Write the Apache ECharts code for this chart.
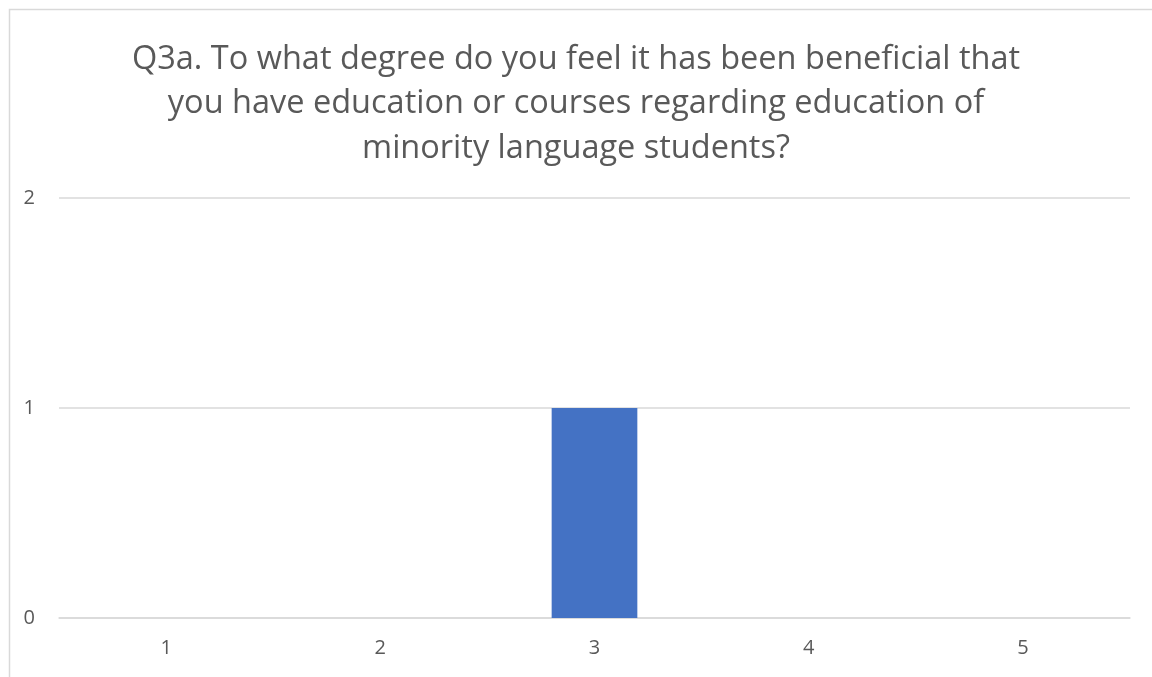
<!DOCTYPE html>
<html>
<head>
<meta charset="utf-8">
<script src="https://cdn.jsdelivr.net/npm/echarts@6/dist/echarts.min.js"></script>
<style>
  html, body { margin: 0; padding: 0; background: #fff; }
  #chart { width: 1152px; height: 677px; }
</style>
</head>
<body>
<div id="chart"></div>
<script>
// Survey answers on a 1–5 scale and how many respondents chose each
const categories = ['1', '2', '3', '4', '5'];
const counts = [0, 0, 1, 0, 0];
const yTicks = [0, 1, 2];

const titleText = 'Q3a. To what degree do you feel it has been beneficial that\nyou have education or courses regarding education of\nminority language students?';
const textColor = '#595959';
const font = '"Open Sans", "Noto Sans", sans-serif';

const chart = echarts.init(document.getElementById('chart'), null, { renderer: 'canvas' });
chart.setOption({
  animation: false,
  backgroundColor: '#ffffff',
  title: {
    text: titleText,
    left: 'center',
    top: 32,
    textStyle: {
      fontFamily: font,
      fontSize: 32.5,
      fontWeight: 'normal',
      color: textColor,
      lineHeight: 44.5
    }
  },
  graphic: [{
    type: 'rect',
    left: 7,
    top: 7,
    shape: { width: 1170, height: 700 },
    style: { fill: 'none', stroke: '#d9d9d9', lineWidth: 1.5 },
    silent: true
  }],
  grid: { left: 59, right: 22, top: 198, bottom: 59, containLabel: false },
  xAxis: {
    type: 'category',
    data: categories,
    axisLine: { show: true, lineStyle: { color: '#d9d9d9', width: 1.5 } },
    axisTick: { show: false },
    axisLabel: { color: textColor, fontFamily: font, fontSize: 20, margin: 20 }
  },
  yAxis: {
    type: 'value',
    min: yTicks[0],
    max: yTicks[yTicks.length - 1],
    interval: 1,
    axisLine: { show: false },
    axisTick: { show: false },
    splitLine: { lineStyle: { color: '#d9d9d9', width: 1.5 } },
    axisLabel: { color: textColor, fontFamily: font, fontSize: 20, margin: 24 }
  },
  series: [{
    type: 'bar',
    data: counts,
    barWidth: '40%',
    itemStyle: { color: '#4472c4' }
  }]
});
</script>
</body>
</html>
